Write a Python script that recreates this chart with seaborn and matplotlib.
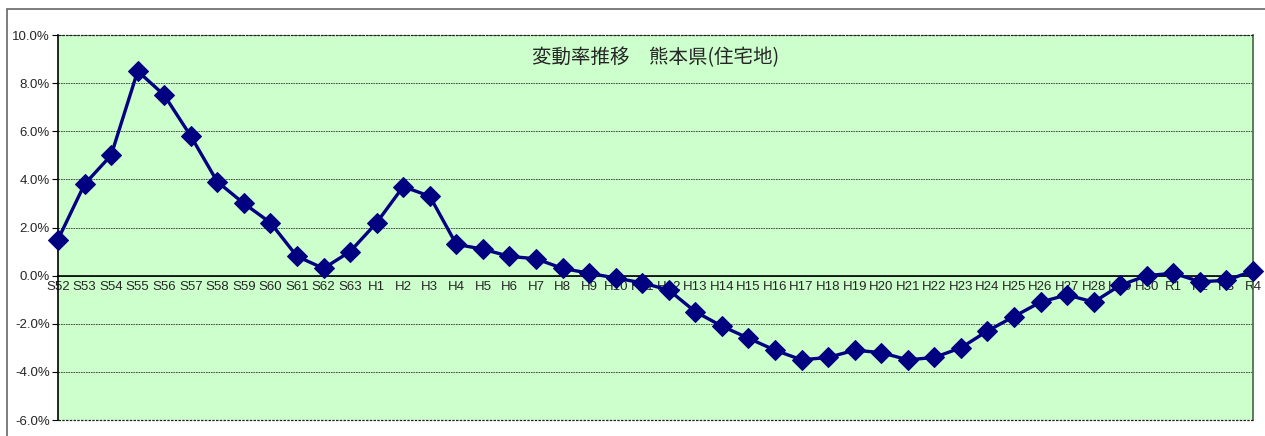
import pandas as pd
import matplotlib
matplotlib.use("Agg")
import matplotlib.pyplot as plt
import seaborn as sns
from matplotlib.ticker import FuncFormatter, MultipleLocator

# 年次ラベル
showa = ["S52", "S53", "S54", "S55", "S56", "S57", "S58", "S59", "S60", "S61", "S62", "S63"]
heisei = ["H%d" % i for i in range(1, 31)]
reiwa = ["R1", "R2", "R3", "R4"]
years = showa + heisei + reiwa

# 変動率 (%)
rate_showa = [1.5, 3.8, 5.0, 8.5, 7.5, 5.8, 3.9, 3.0, 2.2, 0.8, 0.3, 1.0]
rate_heisei = [2.2, 3.7, 3.3, 1.3, 1.1, 0.8, 0.7, 0.3, 0.1, -0.1,
               -0.3, -0.6, -1.5, -2.1, -2.6, -3.1, -3.5, -3.4, -3.1, -3.2,
               -3.5, -3.4, -3.0, -2.3, -1.7, -1.1, -0.8, -1.1, -0.4, 0.0]
rate_reiwa = [0.1, -0.25, -0.2, 0.2]
rates = rate_showa + rate_heisei + rate_reiwa

title = "変動率推移　熊本県(住宅地)"

df = pd.DataFrame({"year": years, "rate": rates})

sns.set_style("white")
plt.rcParams["font.family"] = ["Liberation Sans", "DejaVu Sans"]

fig = plt.figure(figsize=(12.65, 4.36), dpi=100)
ax = fig.add_axes([58 / 1265, 16 / 436, (1253 - 58) / 1265, (420 - 35) / 436])

# チャートエリアの枠 (左・上のみ見える)
fig.patches.append(plt.Rectangle((7 / 1265, -0.1), 1.2, (436 - 9) / 436 + 0.1,
                                 transform=fig.transFigure, fill=False,
                                 edgecolor="#666666", linewidth=1.2))

ax.set_facecolor("#CCFFCC")
sns.lineplot(data=df, x="year", y="rate", sort=False, ax=ax, color="#000080",
             linewidth=2.4, marker="D", markersize=10, markeredgecolor="#000080",
             zorder=5, clip_on=False)

ax.set_xlim(0, len(years) - 1)
ax.set_ylim(-6, 10)
ax.yaxis.set_major_locator(MultipleLocator(2))
ax.yaxis.set_major_formatter(FuncFormatter(lambda v, p: "%.1f%%" % v))
ax.grid(axis="y", color="#333333", linestyle=(0, (2, 1)), linewidth=0.6)
ax.grid(axis="x", visible=False)
for edge in (-6, 10):
    ax.axhline(edge, color="#222222", linestyle=(0, (2, 1)), linewidth=0.9,
               clip_on=False, zorder=3)

ax.spines["bottom"].set_position(("data", 0))
ax.spines["bottom"].set_color("black")
ax.spines["bottom"].set_linewidth(1.2)
ax.spines["left"].set_color("black")
ax.spines["left"].set_linewidth(1.2)
ax.spines["top"].set_visible(False)
ax.spines["right"].set_color("#446644")
ax.spines["right"].set_linewidth(1.2)

ax.tick_params(axis="x", direction="in", length=4, width=0.8, color="black",
               labelsize=9.5, pad=4)
ax.tick_params(axis="y", direction="out", length=4, width=0.8, color="black",
               labelsize=9.5, pad=2, left=True)
ax.set_xlabel("")
ax.set_ylabel("")

ax.text(0.5, 0.94, title, transform=ax.transAxes, ha="center", va="center",
        fontsize=14, family=["Noto Sans CJK JP", "DejaVu Sans"])

fig.savefig("out.png", dpi=100)
